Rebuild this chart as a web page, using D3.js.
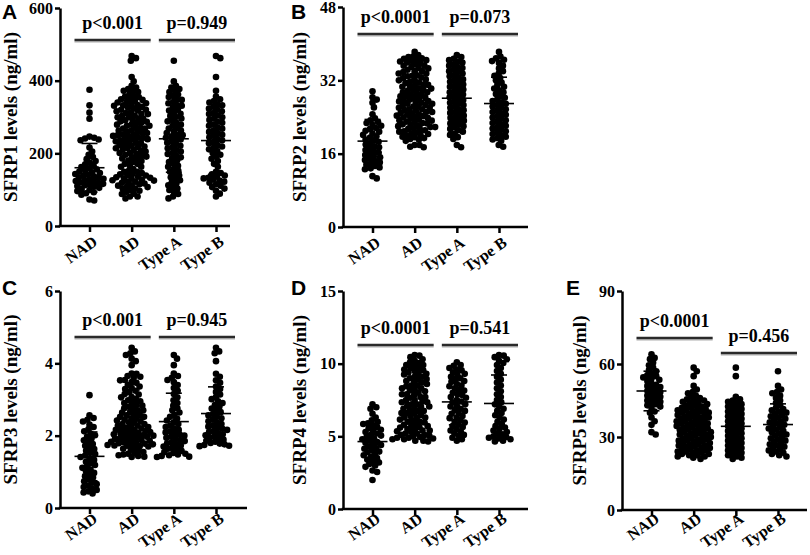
<!DOCTYPE html>
<html>
<head>
<meta charset="utf-8">
<script src="https://cdn.jsdelivr.net/npm/d3@7"></script>
<style>
  body { margin: 0; background: #fff; }
  text { font-family: "Liberation Serif", "Times New Roman", serif; font-weight: bold; }
</style>
</head>
<body>
<script>
var categories = ["NAD", "AD", "Type A", "Type B"];

// SFRP1 (ng/ml)
var sfrp1Nad = [375, 332, 312, 295, 246, 243, 241, 238, 236, 216, 205, 196, 190, 184, 179, 174, 170, 166, 162, 159,
  156, 153, 150, 148, 146, 143, 141, 139, 136, 134, 132, 130, 128, 126, 124, 122, 120, 118, 116, 114,
  112, 110, 108, 105, 102, 99, 96, 93, 90, 86, 73, 70];
var sfrp1TypeA = [455, 398, 386, 381, 377, 372, 369, 362, 358, 355, 349, 347, 341, 338, 333, 331, 326, 320, 318, 312,
  309, 303, 300, 296, 291, 288, 284, 279, 276, 270, 268, 263, 259, 256, 252, 250, 247, 243, 240, 238,
  233, 229, 226, 221, 217, 214, 209, 205, 201, 198, 193, 189, 186, 180, 176, 171, 166, 163, 157, 152,
  149, 143, 139, 134, 130, 126, 121, 117, 112, 108, 103, 99, 94, 88, 81, 76];
var sfrp1TypeB = [468, 462, 410, 372, 356, 349, 344, 340, 335, 332, 328, 323, 320, 316, 311, 308, 304, 299, 296, 292,
  287, 284, 279, 276, 271, 268, 263, 259, 256, 251, 248, 244, 239, 236, 231, 228, 223, 219, 215, 211,
  206, 201, 196, 191, 185, 179, 171, 163, 149, 146, 142, 139, 136, 133, 131, 128, 125, 122, 119, 115,
  111, 107, 103, 97, 89, 81];

// SFRP2 (ng/ml)
var sfrp2Nad = [29.6, 28.3, 27.8, 27.1, 26.1, 24.6, 23.7, 23.3, 22.9, 22.7, 22.3, 22.1, 21.6, 21.4, 21.0, 20.8,
  20.4, 20.1, 19.8, 19.5, 19.1, 18.9, 18.6, 18.2, 18.0, 17.6, 17.4, 17.1, 16.8, 16.5, 16.2, 16.0,
  15.7, 15.4, 15.2, 14.9, 14.6, 14.4, 14.1, 13.9, 13.6, 13.3, 13.0, 12.8, 12.6, 11.1, 10.6];
var sfrp2TypeA = [37.5, 37.1, 36.7, 36.4, 36.1, 35.9, 35.5, 35.2, 34.9, 34.7, 34.3, 34.0, 33.8, 33.5, 33.1, 32.9,
  32.6, 32.2, 32.0, 31.7, 31.4, 31.1, 30.8, 30.6, 30.2, 30.0, 29.7, 29.4, 29.1, 28.9, 28.5, 28.3,
  28.0, 27.7, 27.4, 27.1, 26.9, 26.6, 26.3, 26.0, 25.7, 25.5, 25.1, 24.9, 24.6, 24.3, 24.0, 23.8,
  23.4, 23.2, 22.9, 22.6, 22.3, 22.0, 21.8, 21.4, 21.1, 20.8, 20.4, 20.1, 19.6, 19.2, 17.9, 17.4];
var sfrp2TypeB = [38.2, 37.2, 36.8, 36.5, 36.2, 35.8, 35.2, 34.6, 34.0, 33.5, 33.0, 32.5, 32.0, 31.5, 31.0, 30.6,
  30.2, 29.8, 29.4, 29.0, 28.6, 28.2, 27.8, 27.5, 27.2, 26.9, 26.6, 26.3, 26.0, 25.7, 25.4, 25.1,
  24.8, 24.5, 24.2, 23.9, 23.6, 23.3, 23.0, 22.7, 22.4, 22.1, 21.8, 21.5, 21.2, 20.9, 20.6, 20.3,
  20.0, 19.7, 19.4, 19.1, 18.8, 17.9, 17.5];

// SFRP3 (ng/ml)
var sfrp3Nad = [3.12, 2.56, 2.49, 2.44, 2.39, 2.31, 2.24, 2.18, 2.12, 2.06, 2.01, 1.97, 1.92, 1.87, 1.82, 1.77,
  1.72, 1.67, 1.63, 1.58, 1.53, 1.49, 1.45, 1.41, 1.37, 1.33, 1.28, 1.24, 1.19, 1.15, 1.11, 1.06,
  1.02, 0.97, 0.93, 0.88, 0.84, 0.79, 0.74, 0.70, 0.66, 0.62, 0.58, 0.54, 0.50, 0.46, 0.43, 0.40];
var sfrp3TypeA = [4.23, 4.13, 3.95, 3.72, 3.65, 3.60, 3.54, 3.48, 3.40, 3.32, 3.24, 3.15, 3.06, 2.98, 2.90, 2.83,
  2.76, 2.70, 2.64, 2.58, 2.52, 2.47, 2.42, 2.37, 2.32, 2.28, 2.24, 2.20, 2.16, 2.12, 2.09, 2.06,
  2.03, 2.00, 1.97, 1.94, 1.91, 1.88, 1.85, 1.82, 1.79, 1.76, 1.73, 1.70, 1.67, 1.64, 1.61, 1.58,
  1.55, 1.52, 1.50, 1.48, 1.46, 1.44, 1.42, 1.41];
var sfrp3TypeB = [4.43, 4.33, 4.28, 4.06, 3.71, 3.63, 3.53, 3.46, 3.36, 3.29, 3.21, 3.14, 3.07, 3.01, 2.95, 2.90,
  2.85, 2.80, 2.75, 2.70, 2.65, 2.60, 2.56, 2.52, 2.48, 2.44, 2.40, 2.36, 2.32, 2.28, 2.25, 2.22,
  2.19, 2.16, 2.13, 2.10, 2.07, 2.04, 2.01, 1.98, 1.95, 1.92, 1.89, 1.86, 1.83, 1.80, 1.78, 1.76,
  1.74, 1.72, 1.71];

// SFRP4 (ng/ml)
var sfrp4Nad = [7.2, 7.0, 6.9, 6.55, 6.3, 6.1, 6.0, 5.9, 5.85, 5.75, 5.65, 5.55, 5.45, 5.4, 5.3, 5.2,
  5.1, 5.05, 4.95, 4.85, 4.8, 4.7, 4.6, 4.55, 4.45, 4.4, 4.3, 4.2, 4.15, 4.05, 3.95, 3.9,
  3.8, 3.7, 3.6, 3.5, 3.4, 3.3, 3.2, 3.1, 3.0, 2.9, 2.65, 2.55, 2.0];
var sfrp4TypeA = [10.1, 9.9, 9.85, 9.7, 9.6, 9.55, 9.4, 9.3, 9.25, 9.1, 9.0, 8.95, 8.8, 8.75, 8.6, 8.5,
  8.45, 8.3, 8.2, 8.15, 8.0, 7.9, 7.85, 7.7, 7.65, 7.5, 7.4, 7.35, 7.2, 7.1, 7.05, 6.9,
  6.8, 6.75, 6.6, 6.55, 6.4, 6.3, 6.25, 6.1, 6.0, 5.95, 5.8, 5.7, 5.65, 5.5, 5.4, 5.35,
  5.2, 5.1, 5.05, 4.9, 4.8, 4.7];
var sfrp4TypeB = [10.6, 10.55, 10.45, 10.3, 10.2, 10.05, 9.9, 9.7, 9.5, 9.3, 9.1, 8.9, 8.7, 8.5, 8.3, 8.1,
  7.9, 7.7, 7.5, 7.35, 7.2, 7.05, 6.9, 6.75, 6.6, 6.45, 6.3, 6.15, 6.0, 5.85, 5.7, 5.6,
  5.5, 5.4, 5.3, 5.2, 5.1, 5.0, 4.95, 4.9, 4.85, 4.8, 4.7, 4.65];

// SFRP5 (ng/ml)
var sfrp5Nad = [64, 62.5, 62, 60.5, 59.5, 58.5, 57.5, 57, 56, 55.5, 55, 54.5, 54, 53.5, 53, 52,
  51.5, 51, 50.5, 50, 49.5, 49, 48.5, 48, 47.5, 47, 46.5, 46, 45.5, 45, 44.5, 44,
  43.5, 43, 42.5, 42, 40.5, 40, 38, 36.5, 35, 32, 31];
var sfrp5TypeA = [58.5, 55, 46.5, 45.5, 45, 44.5, 44, 43.5, 43, 42.5, 42, 41.5, 41, 40.5, 40, 39.5,
  39, 38.5, 38, 37.5, 37, 36.5, 36, 35.5, 35, 34.5, 34, 33.5, 33, 32.5, 32, 31.5,
  31, 30.5, 30, 29.5, 29, 28.5, 28, 27.5, 27, 26.5, 26, 25.5, 25, 24.5, 24, 23.5,
  23, 22.5, 22, 21.5, 21];
var sfrp5TypeB = [57, 51, 49.5, 48.5, 48, 47, 46, 45, 44, 43, 42, 41.5, 41, 40.5, 40, 39.5,
  39, 38.5, 38, 37.5, 37, 36.5, 36, 35.5, 35, 34.5, 34, 33.5, 33, 32.5, 32, 31.5,
  31, 30.5, 30, 29.5, 29, 28.5, 28, 27.5, 27, 26.5, 26, 25.5, 25, 24.5, 24, 23.5,
  23, 22.5, 22];

var yTicks1 = [0, 200, 400, 600];
var yTicks2 = [0, 16, 32, 48];
var yTicks3 = [0, 2, 4, 6];
var yTicks4 = [0, 5, 10, 15];
var yTicks5 = [0, 30, 60, 90];

var pText1 = ["p<0.001", "p=0.949"];
var pText2 = ["p<0.0001", "p=0.073"];
var pText3 = ["p<0.001", "p=0.945"];
var pText4 = ["p<0.0001", "p=0.541"];
var pText5 = ["p<0.0001", "p=0.456"];

// AD group = Type A + Type B patients
var panels = [
  { letter: "A", title: "SFRP1 levels (ng/ml)", ticks: yTicks1, p: pText1,
    groups: [sfrp1Nad, sfrp1TypeA.concat(sfrp1TypeB), sfrp1TypeA, sfrp1TypeB] },
  { letter: "B", title: "SFRP2 levels (ng/ml)", ticks: yTicks2, p: pText2,
    groups: [sfrp2Nad, sfrp2TypeA.concat(sfrp2TypeB), sfrp2TypeA, sfrp2TypeB] },
  { letter: "C", title: "SFRP3 levels (ng/ml)", ticks: yTicks3, p: pText3,
    groups: [sfrp3Nad, sfrp3TypeA.concat(sfrp3TypeB), sfrp3TypeA, sfrp3TypeB] },
  { letter: "D", title: "SFRP4 levels (ng/ml)", ticks: yTicks4, p: pText4,
    groups: [sfrp4Nad, sfrp4TypeA.concat(sfrp4TypeB), sfrp4TypeA, sfrp4TypeB] },
  { letter: "E", title: "SFRP5 levels (ng/ml)", ticks: yTicks5, p: pText5,
    groups: [sfrp5Nad, sfrp5TypeA.concat(sfrp5TypeB), sfrp5TypeA, sfrp5TypeB] }
];

// where each panel sits on the page
var layout = [
  { axisX: 60,  y0: 226, y1: 8,   xEnd: 230, titleDx: 43, pY: [40, 40],   lx: 2,   ly: 19,  catDy: 18 },
  { axisX: 343, y0: 227, y1: 7,   xEnd: 528, titleDx: 37, pY: [34, 34],   lx: 291, ly: 19,  catDy: 18 },
  { axisX: 60,  y0: 508, y1: 291, xEnd: 247, titleDx: 43, pY: [337, 337], lx: 2,   ly: 295, catDy: 13 },
  { axisX: 343, y0: 509, y1: 291, xEnd: 528, titleDx: 37, pY: [345, 345], lx: 291, ly: 295, catDy: 12 },
  { axisX: 622, y0: 510, y1: 291, xEnd: 807, titleDx: 36, pY: [338, 353], lx: 566, ly: 295, catDy: 11 }
];

var dot = { r: 3.3, gap: 4.8 };

var svg = d3.select("body").append("svg")
  .attr("width", 810)
  .attr("height", 555)
  .style("background", "#fff");

// simple beeswarm: each point goes as close to the centre as it can
function swarm(values, y) {
  var pts = values.map(function(v) { return { v: v, y: y(v), dx: 0 }; })
    .sort(function(a, b) { return a.y - b.y; });
  var placed = [];
  var d = dot.gap;
  pts.forEach(function(p) {
    var near = placed.filter(function(q) { return Math.abs(q.y - p.y) < d; });
    var cands = [0];
    near.forEach(function(q) {
      var off = Math.sqrt(d * d - (q.y - p.y) * (q.y - p.y));
      cands.push(q.dx + off, q.dx - off);
    });
    cands.sort(function(a, b) { return Math.abs(a) - Math.abs(b); });
    for (var i = 0; i < cands.length; i++) {
      var c = cands[i];
      var ok = near.every(function(q) {
        return (q.dx - c) * (q.dx - c) + (q.y - p.y) * (q.y - p.y) >= d * d - 0.01;
      });
      if (ok) { p.dx = c; break; }
    }
    placed.push(p);
  });
  return pts;
}

panels.forEach(function(panel, k) {
  var L = layout[k];
  var g = svg.append("g");

  var y = d3.scaleLinear()
    .domain([0, d3.max(panel.ticks)])
    .range([L.y0, L.y1]);

  var x = d3.scalePoint()
    .domain(categories)
    .range([L.axisX + 29.5, L.axisX + 156]);

  // y axis
  var yAxis = g.append("g")
    .attr("transform", "translate(" + L.axisX + ",0)")
    .call(d3.axisLeft(y).tickValues(panel.ticks).tickFormat(function(d) { return d; })
      .tickSize(5).tickSizeOuter(0).tickPadding(2));
  yAxis.selectAll("path, line").attr("stroke", "#000").attr("stroke-width", 2.5);
  yAxis.selectAll("text")
    .style("font-family", "Liberation Serif, serif")
    .style("font-weight", "bold")
    .style("font-size", "16px")
    .attr("fill", "#000");

  // x axis
  var xAxis = g.append("g")
    .attr("transform", "translate(0," + L.y0 + ")")
    .call(d3.axisBottom(x).tickSize(6).tickSizeOuter(0).tickFormat(""));
  xAxis.select(".domain").remove();
  xAxis.selectAll("line").attr("stroke", "#000").attr("stroke-width", 2.5);
  g.append("line")
    .attr("x1", L.axisX - 1.25).attr("x2", L.xEnd)
    .attr("y1", L.y0).attr("y2", L.y0)
    .attr("stroke", "#000").attr("stroke-width", 2.5);

  g.selectAll(".cat")
    .data(categories)
    .enter().append("text")
    .attr("class", "cat")
    .attr("text-anchor", "end")
    .attr("transform", function(c) {
      return "translate(" + (x(c) + 9) + "," + (L.y0 + L.catDy) + ") rotate(-35)";
    })
    .style("font-size", "16px")
    .text(function(c) { return c; });

  // axis title
  g.append("text")
    .attr("text-anchor", "middle")
    .attr("transform", "translate(" + (L.axisX - L.titleDx) + "," + ((L.y0 + L.y1) / 2) + ") rotate(-90)")
    .style("font-size", "19px")
    .text(panel.title);

  // panel letter
  g.append("text")
    .attr("x", L.lx).attr("y", L.ly)
    .style("font-family", "Liberation Sans, Arial, sans-serif")
    .style("font-weight", "bold")
    .style("font-size", "21px")
    .text(panel.letter);

  // dots, mean and SD
  panel.groups.forEach(function(vals, gi) {
    var cx = x(categories[gi]);
    var pts = swarm(vals, y);
    g.append("g").selectAll("circle")
      .data(pts)
      .enter().append("circle")
      .attr("cx", function(p) { return cx + p.dx; })
      .attr("cy", function(p) { return p.y; })
      .attr("r", dot.r)
      .attr("fill", "#000");

    var m = d3.mean(vals), sd = d3.deviation(vals);
    var eb = g.append("g").attr("stroke", "#000").attr("stroke-width", 1.6);
    eb.append("line").attr("x1", cx - 15).attr("x2", cx + 15).attr("y1", y(m)).attr("y2", y(m));
    eb.append("line").attr("x1", cx).attr("x2", cx).attr("y1", y(m - sd)).attr("y2", y(m + sd));
    eb.append("line").attr("x1", cx - 8).attr("x2", cx + 8).attr("y1", y(m + sd)).attr("y2", y(m + sd));
    eb.append("line").attr("x1", cx - 8).attr("x2", cx + 8).attr("y1", y(m - sd)).attr("y2", y(m - sd));
  });

  // p-value brackets
  var pairs = [[categories[0], categories[1]], [categories[2], categories[3]]];
  pairs.forEach(function(pair, i) {
    var x1 = x(pair[0]) - 15, x2 = x(pair[1]) + 19, py = L.pY[i];
    g.append("line")
      .attr("x1", x1).attr("x2", x2).attr("y1", py + 1.8).attr("y2", py + 1.8)
      .attr("stroke", "#c8c8c8").attr("stroke-width", 2);
    g.append("line")
      .attr("x1", x1).attr("x2", x2).attr("y1", py).attr("y2", py)
      .attr("stroke", "#2a2a2a").attr("stroke-width", 2.4);
    g.append("text")
      .attr("x", (x1 + x2) / 2).attr("y", py - 11)
      .attr("text-anchor", "middle")
      .style("font-size", "18px")
      .text(panel.p[i]);
  });
});
</script>
</body>
</html>
